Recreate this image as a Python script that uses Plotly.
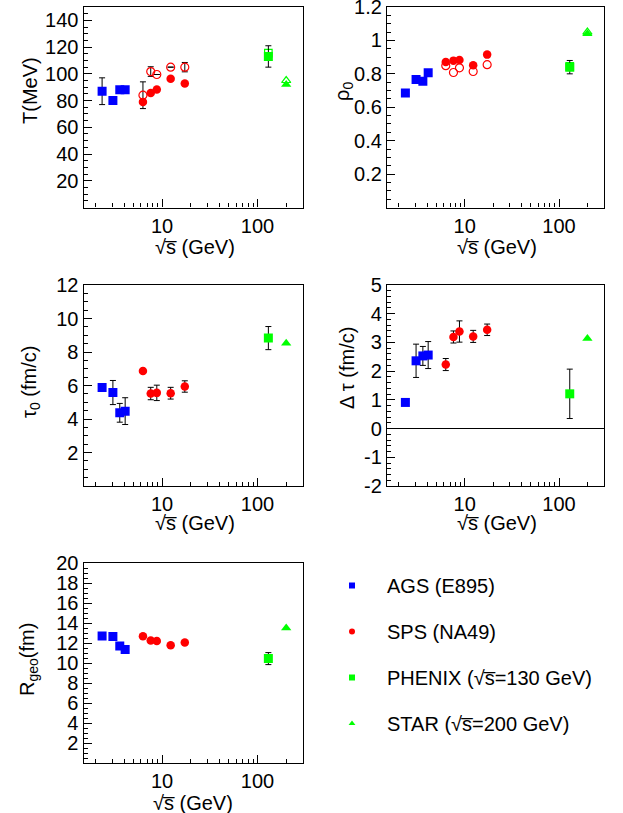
import plotly.graph_objects as go

W, H = 623, 813

# ---------------- data ----------------
ags_x = [2.35, 3.05, 3.6, 4.1]
sps_x = [6.3, 7.6, 8.8, 12.3, 17.3]
phenix_x = [130]
star_x = [200]

# T (MeV)
T_ags = [87, 80, 88, 88]
T_ags_err = [10, 0, 0, 0]
T_sps = [79, 85.6, 88.3, 96.3, 92.8]
T_sps_open = [84, 101.7, 99.5, 105, 105]
T_sps_open_err = [10, 3.6, 0, 0, 3.5]
T_phenix = [113]
T_phenix_err = [8]
T_phenix_open = [115.5]
T_star = [92]
T_star_open = [95]

# rho_0
rho_ags = [0.685, 0.766, 0.756, 0.806]
rho_sps = [0.871, 0.879, 0.883, 0.851, 0.915]
rho_sps_open = [0.849, 0.808, 0.836, 0.814, 0.855]
rho_phenix = [0.84]
rho_phenix_err = [0.04]
rho_phenix_open = [0.845]
rho_star = [1.04]
rho_star_open = [1.05]

# tau_0 (fm/c)
tau_ags = [5.88, 5.58, 4.37, 4.47]
tau_ags_err = [0, 0.72, 0.56, 0.8]
tau_sps = [6.86, 5.52, 5.56, 5.54, 5.94]
tau_sps_err = [0, 0.37, 0.46, 0.35, 0.34]
tau_phenix = [8.83]
tau_phenix_err = [0.69]
tau_star = [8.52]

# delta tau (fm/c)
dtau_ags = [0.91, 2.36, 2.53, 2.56]
dtau_ags_err = [0, 0.58, 0.33, 0.47]
dtau_sps = [2.23, 3.19, 3.38, 3.21, 3.44]
dtau_sps_err = [0.21, 0.21, 0.37, 0.21, 0.2]
dtau_phenix = [1.21]
dtau_phenix_err = [0.86]
dtau_star = [3.14]

# R_geo (fm)
R_ags = [12.7, 12.65, 11.7, 11.35]
R_sps = [12.67, 12.24, 12.2, 11.77, 12.04]
R_phenix = [10.44]
R_phenix_err = [0.6]
R_star = [13.5]

SQRT_S = "√s\u0305"
legend_names = ["AGS (E895)", "SPS (NA49)",
                f"PHENIX ({SQRT_S}=130 GeV)",
                f"STAR ({SQRT_S}=200 GeV)"]

BLUE, RED, GREEN = "#0000ff", "#ff0000", "#00ff00"
FONT = "Liberation Sans, Arial, sans-serif"
XT = f"{SQRT_S} (GeV)"

def px(x):
    return x / W

def py(y):
    return 1 - y / H

fig = go.Figure()

def err(v):
    return dict(type="data", array=v, color="black", thickness=1, width=3, visible=True)

def add(ax, x, y, color, symbol, size, e=None):
    xa = "x" if ax == 1 else f"x{ax}"
    ya = "y" if ax == 1 else f"y{ax}"
    kw = {}
    if e is not None:
        kw["error_y"] = err(e)
    lw = 1.2 if "open" in symbol else 0
    fig.add_trace(go.Scatter(x=x, y=y, mode="markers", xaxis=xa, yaxis=ya,
                             marker=dict(color=color, symbol=symbol, size=size,
                                         line=dict(width=lw, color=color)),
                             showlegend=False, **kw))

SQ, CI, TR = 9, 8.5, 9

# panel 1: T
add(1, ags_x, T_ags, BLUE, "square", SQ, T_ags_err)
add(1, sps_x, T_sps_open, RED, "circle-open", 8, T_sps_open_err)
add(1, sps_x, T_sps, RED, "circle", CI)
add(1, phenix_x, T_phenix_open, GREEN, "square-open", 7.5)
add(1, phenix_x, T_phenix, GREEN, "square", SQ, T_phenix_err)
add(1, star_x, T_star_open, GREEN, "triangle-up-open", 8)
add(1, star_x, T_star, GREEN, "triangle-up", TR)

# panel 2: rho0
add(2, ags_x, rho_ags, BLUE, "square", SQ)
add(2, sps_x, rho_sps_open, RED, "circle-open", 8)
add(2, sps_x, rho_sps, RED, "circle", CI)
add(2, phenix_x, rho_phenix_open, GREEN, "square-open", 7.5)
add(2, phenix_x, rho_phenix, GREEN, "square", SQ, rho_phenix_err)
add(2, star_x, rho_star_open, GREEN, "triangle-up-open", 8)
add(2, star_x, rho_star, GREEN, "triangle-up", TR)

# panel 3: tau0
add(3, ags_x, tau_ags, BLUE, "square", SQ, tau_ags_err)
add(3, sps_x, tau_sps, RED, "circle", CI, tau_sps_err)
add(3, phenix_x, tau_phenix, GREEN, "square", SQ, tau_phenix_err)
add(3, star_x, tau_star, GREEN, "triangle-up", TR)

# panel 4: delta tau
add(4, ags_x, dtau_ags, BLUE, "square", SQ, dtau_ags_err)
add(4, sps_x, dtau_sps, RED, "circle", CI, dtau_sps_err)
add(4, phenix_x, dtau_phenix, GREEN, "square", SQ, dtau_phenix_err)
add(4, star_x, dtau_star, GREEN, "triangle-up", TR)

# panel 5: Rgeo
add(5, ags_x, R_ags, BLUE, "square", SQ)
add(5, sps_x, R_sps, RED, "circle", CI)
add(5, phenix_x, R_phenix, GREEN, "square", SQ, R_phenix_err)
add(5, star_x, R_star, GREEN, "triangle-up", TR)

# legend entries
for name, col, sym in zip(legend_names, [BLUE, RED, GREEN, GREEN],
                          ["square", "circle", "square", "triangle-up"]):
    fig.add_trace(go.Scatter(x=[None], y=[None], mode="markers", name=name,
                             xaxis="x5", yaxis="y5",
                             marker=dict(color=col, symbol=sym, size=6),
                             legendgroup=name, showlegend=True))

LEFT = (83.5, 303)
RIGHT = (387, 604)
ROW1 = (7, 207.5)
ROW2 = (285, 486)
ROW3 = (563, 763)

minor_x = [2, 3, 4, 5, 6, 7, 8, 9, 20, 30, 40, 50, 60, 70, 80, 90, 200, 300]

def xaxis(dom, anchor):
    return dict(type="log", range=[0.17609, 2.47712], automargin=False,
                domain=[px(dom[0]), px(dom[1])], anchor=anchor,
                tickmode="array", tickvals=[10, 100], ticktext=["10", "100"],
                ticks="inside", ticklen=8, tickwidth=1, tickcolor="black",
                ticklabeloverflow="allow",
                minor=dict(tickmode="array", tickvals=minor_x, ticks="inside",
                           ticklen=4, tickwidth=1, tickcolor="black", showgrid=False),
                showline=True, mirror=True, linecolor="black", linewidth=1.2,
                showgrid=False, zeroline=False,
                tickfont=dict(family=FONT, size=20, color="black"))

def yaxis(dom, anchor, rng, tv, mdt, zl=False):
    return dict(range=rng, domain=[py(dom[1]), py(dom[0])], anchor=anchor,
                automargin=False, ticklabeloverflow="allow",
                tickmode="array", tickvals=tv, ticktext=[f"{v:g}" for v in tv],
                ticks="inside", ticklen=8, tickwidth=1, tickcolor="black",
                minor=dict(tick0=0, dtick=mdt, ticks="inside", ticklen=4,
                           tickwidth=1, tickcolor="black", showgrid=False),
                showline=True, mirror=True, linecolor="black", linewidth=1.2,
                showgrid=False, zeroline=zl, zerolinecolor="black", zerolinewidth=1,
                tickfont=dict(family=FONT, size=20, color="black"))

layout = dict(
    width=W, height=H,
    margin=dict(l=0, r=0, t=0, b=0, autoexpand=False),
    paper_bgcolor="white", plot_bgcolor="white",
    font=dict(family=FONT, size=20, color="black"),
    xaxis=xaxis(LEFT, "y"),
    yaxis=yaxis(ROW1, "x", [0, 150], [20, 40, 60, 80, 100, 120, 140], 5),
    xaxis2=xaxis(RIGHT, "y2"),
    yaxis2=yaxis(ROW1, "x2", [0, 1.2], [0.2, 0.4, 0.6, 0.8, 1.0, 1.2], 0.05),
    xaxis3=xaxis(LEFT, "y3"),
    yaxis3=yaxis(ROW2, "x3", [0, 12], [2, 4, 6, 8, 10, 12], 0.5),
    xaxis4=xaxis(RIGHT, "y4"),
    yaxis4=yaxis(ROW2, "x4", [-2, 5], [-2, -1, 0, 1, 2, 3, 4, 5], 0.2, zl=True),
    xaxis5=xaxis(LEFT, "y5"),
    yaxis5=yaxis(ROW3, "x5", [0, 20], [2, 4, 6, 8, 10, 12, 14, 16, 18, 20], 0.5),
    showlegend=True,
    legend=dict(x=px(317), y=py(566), xanchor="left", yanchor="top",
                font=dict(family=FONT, size=20, color="black"),
                tracegroupgap=17, bgcolor="rgba(0,0,0,0)", itemwidth=60),
)

annots = []
def ann(text, x, y, angle=0):
    annots.append(dict(text=text, x=px(x), y=py(y), xref="paper", yref="paper",
                       xanchor="center", yanchor="middle", showarrow=False,
                       textangle=angle, font=dict(family=FONT, size=20, color="black")))

ann("T(MeV)", 30, 91, -90)
ann("ρ<sub>0</sub>", 343, 92, -90)
ann("τ<sub>0</sub> (fm/c)", 30, 382, -90)
ann("Δ τ (fm/c)", 347, 368, -90)
ann("R<sub>geo</sub>(fm)", 28, 660, -90)
ann(XT, 195, 247)
ann(XT, 497, 247)
ann(XT, 195, 523)
ann(XT, 497, 523)
ann(XT, 193, 803)
layout["annotations"] = annots

fig.update_layout(**layout)
fig.write_html("out.html", config={"displayModeBar": False},
               post_script="document.documentElement.style.margin='0';"
                           "document.body.style.margin='0';"
                           "document.body.style.overflow='hidden';")
